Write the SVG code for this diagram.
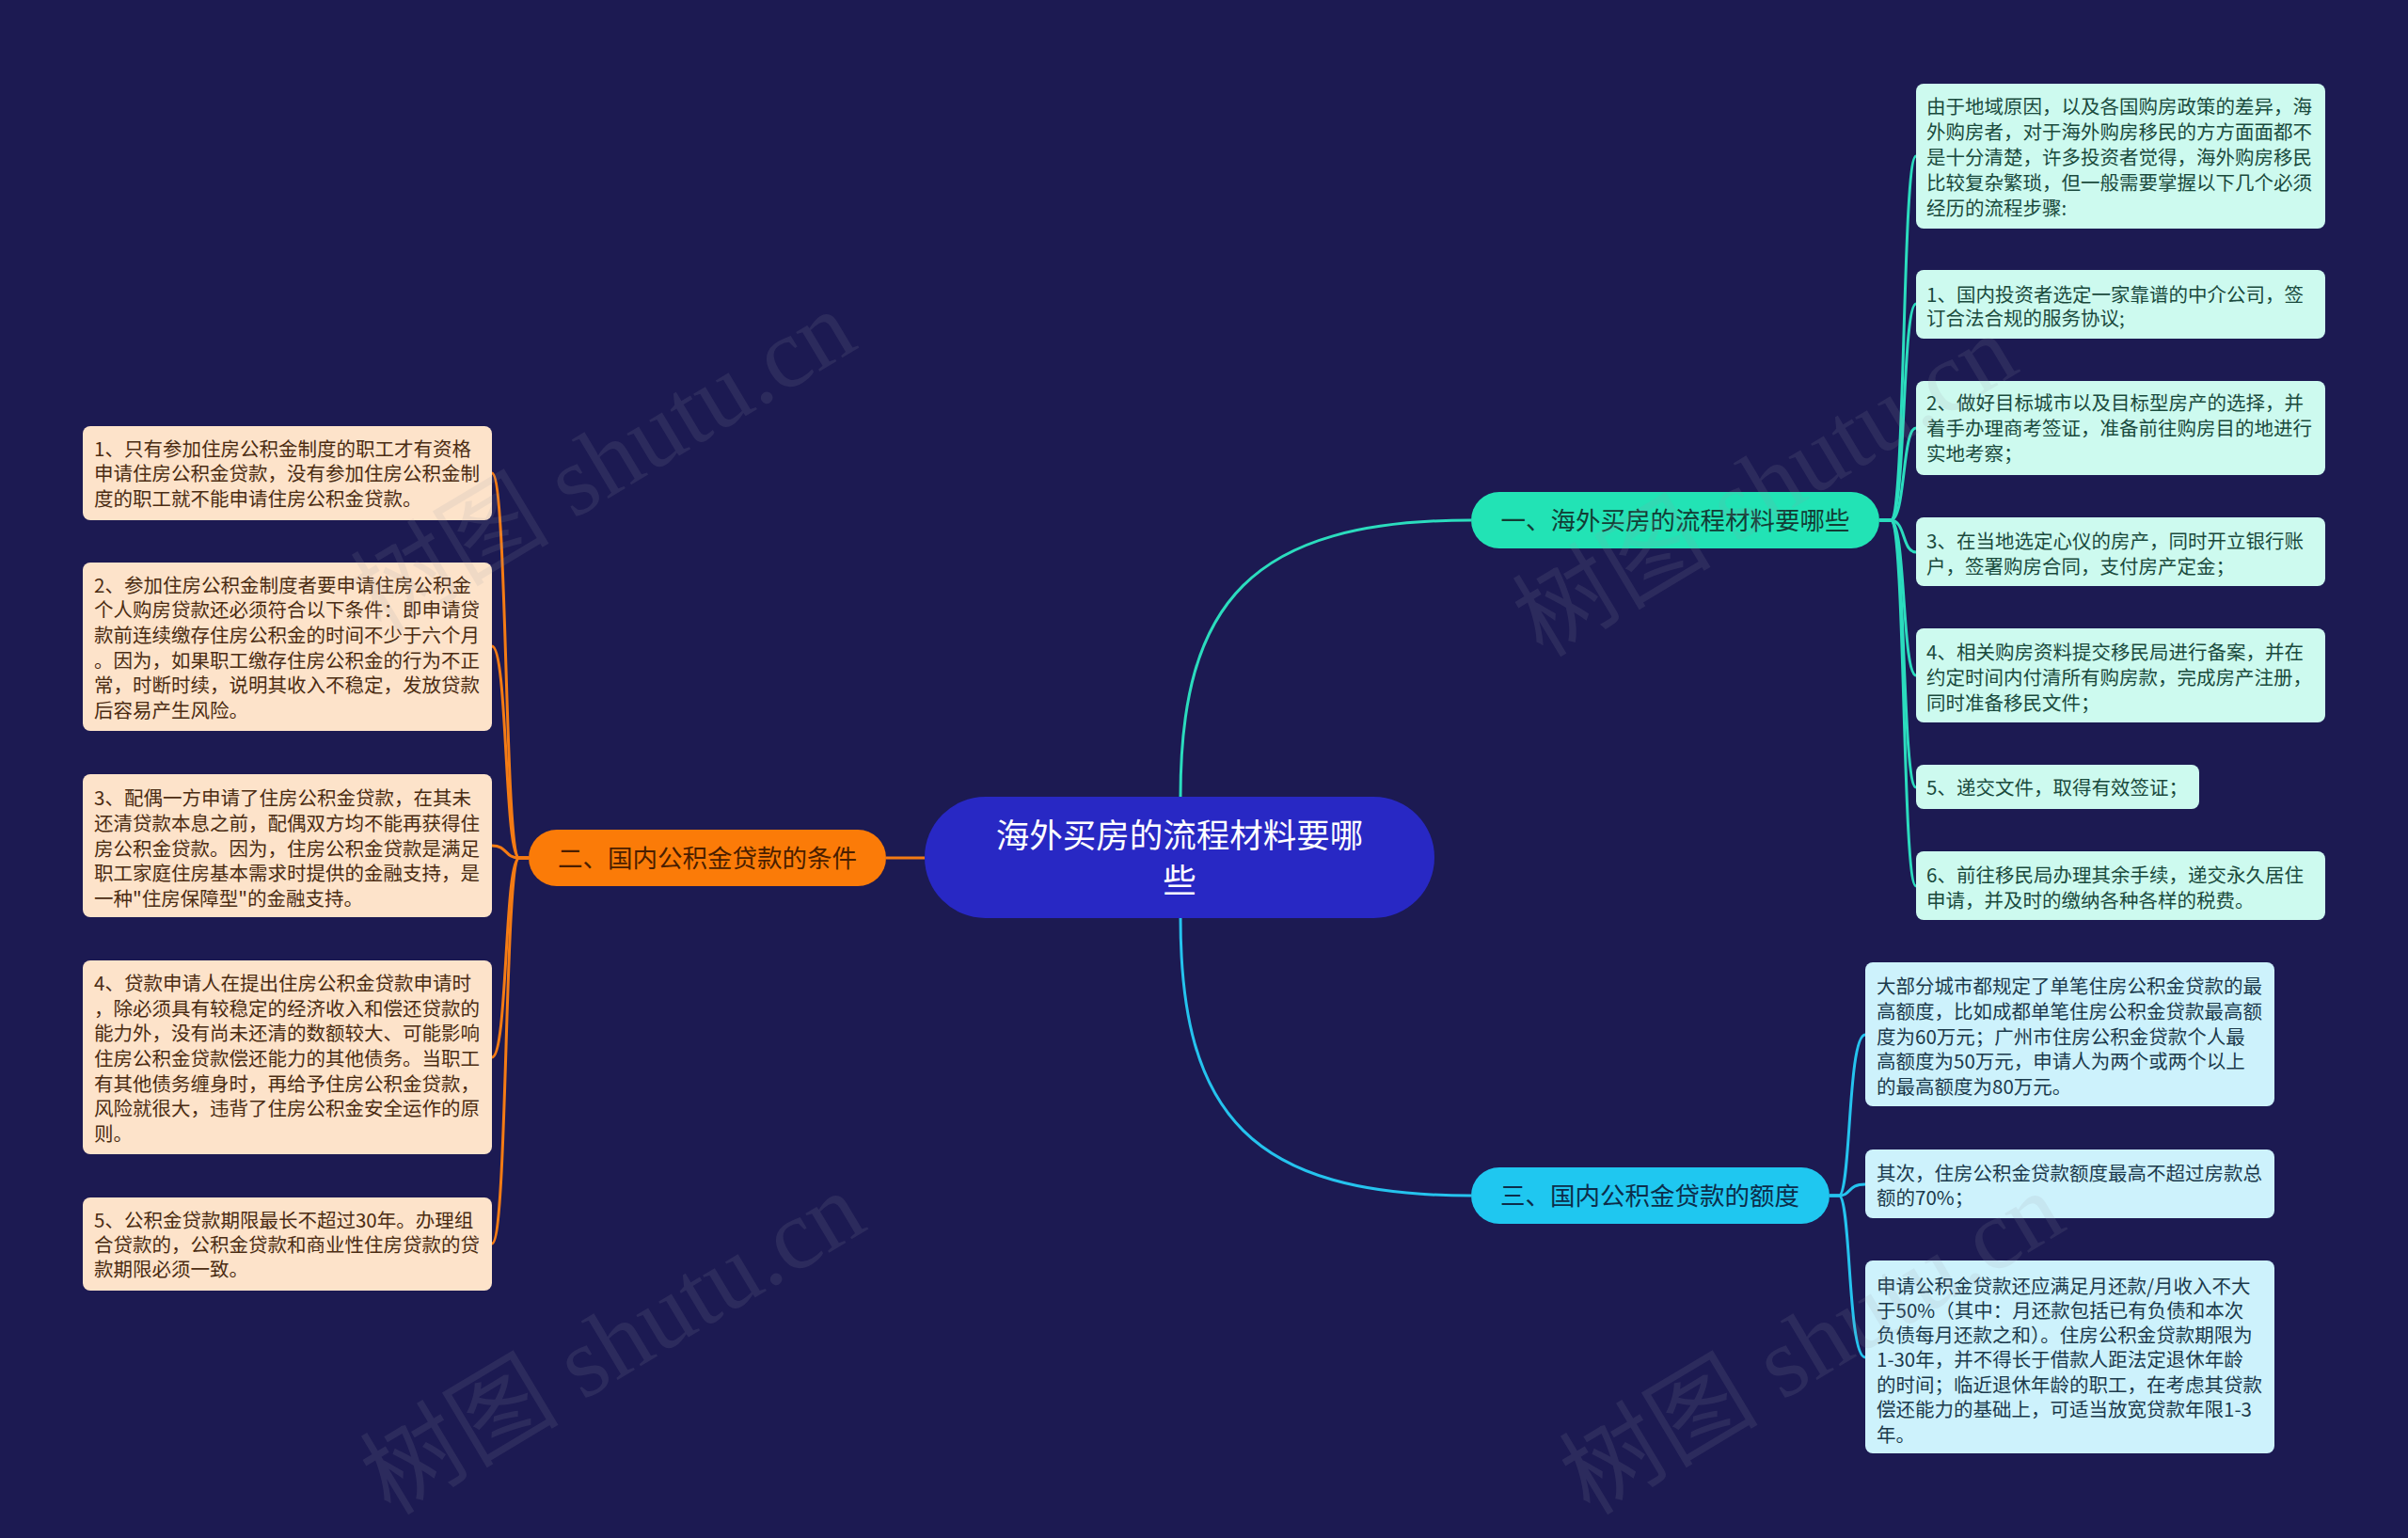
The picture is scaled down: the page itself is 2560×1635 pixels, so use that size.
<svg xmlns="http://www.w3.org/2000/svg" width="2560" height="1635" viewBox="0 0 2560 1635">
<style>
text{font-family:"Noto Sans CJK SC","Noto Sans",sans-serif;}
.t{font-size:20.5px;}
.g1{fill:#cdfaef;}
.g2{fill:#fde3ca;}
.g3{fill:#cdf2fc;}
.x1{fill:#1a4a3d;}
.x2{fill:#4b2c12;}
.x3{fill:#1b3a4c;}
.c1{fill:none;stroke:#2bdcbe;stroke-width:3;}
.c2{fill:none;stroke:#f47b14;stroke-width:3;}
.c3{fill:none;stroke:#25c3ee;stroke-width:3;}
.wm{font-family:"Liberation Serif","Noto Sans CJK SC",serif;font-size:106px;fill:#9a9aa8;opacity:0.13;}
</style>
<rect x="0" y="0" width="2560" height="1635" fill="#1c1a52"/>

<g id="connectors">
<path class="c1" d="M1255 847 C1255 640 1330 553 1564 553"/>
<path class="c3" d="M1255 976 C1255 1185 1330 1271 1564 1271"/>
<path class="c2" d="M983 912 H942"/>
<path class="c1" d="M1998 553 H2010 C2026 553 2022 166 2037 166"/>
<path class="c1" d="M1998 553 H2010 C2026 553 2022 323 2037 323"/>
<path class="c1" d="M1998 553 H2010 C2026 553 2022 455 2037 455"/>
<path class="c1" d="M1998 553 H2010 C2026 553 2022 587 2037 587"/>
<path class="c1" d="M1998 553 H2010 C2026 553 2022 718 2037 718"/>
<path class="c1" d="M1998 553 H2010 C2026 553 2022 837 2037 837"/>
<path class="c1" d="M1998 553 H2010 C2026 553 2022 942 2037 942"/>
<path class="c3" d="M1945 1271 H1955 C1968 1271 1964 1100 1983 1100"/>
<path class="c3" d="M1945 1271 H1955 C1968 1271 1964 1259 1983 1259"/>
<path class="c3" d="M1945 1271 H1955 C1968 1271 1964 1443 1983 1443"/>
<path class="c2" d="M562 912 H552 C536 912 540 503 523 503"/>
<path class="c2" d="M562 912 H552 C536 912 540 687 523 687"/>
<path class="c2" d="M562 912 H552 C536 912 540 899 523 899"/>
<path class="c2" d="M562 912 H552 C536 912 540 1124 523 1124"/>
<path class="c2" d="M562 912 H552 C536 912 540 1322 523 1322"/>
</g>

<g id="center">
<rect x="983" y="847" width="542" height="129" rx="64.5" fill="#2828c4"/>
<text x="1254" y="901" font-size="35.5" fill="#ffffff" text-anchor="middle">海外买房的流程材料要哪</text>
<text x="1254" y="949" font-size="35.5" fill="#ffffff" text-anchor="middle">些</text>
</g>

<g id="branch1">
<rect x="1564" y="523" width="434" height="60" rx="30" fill="#22e3b5"/>
<text x="1781" y="563" font-size="26.5" fill="#123d35" text-anchor="middle">一、海外买房的流程材料要哪些</text>
</g>
<g id="branch2">
<rect x="562" y="882" width="380" height="60" rx="30" fill="#fb7b08"/>
<text x="752" y="922" font-size="26.5" fill="#4a1e00" text-anchor="middle">二、国内公积金贷款的条件</text>
</g>
<g id="branch3">
<rect x="1564" y="1241" width="381" height="60" rx="30" fill="#1fc7f0"/>
<text x="1754" y="1281" font-size="26.5" fill="#0c2d4a" text-anchor="middle">三、国内公积金贷款的额度</text>
</g>

<g id="b1n0">
<rect class="g1" x="2037" y="89" width="435" height="154" rx="8"/>
<text class="t x1"><tspan x="2048" y="120.5">由于地域原因，以及各国购房政策的差异，海</tspan><tspan x="2048" y="147.5">外购房者，对于海外购房移民的方方面面都不</tspan><tspan x="2048" y="174.5">是十分清楚，许多投资者觉得，海外购房移民</tspan><tspan x="2048" y="202">比较复杂繁琐，但一般需要掌握以下几个必须</tspan><tspan x="2048" y="229">经历的流程步骤:</tspan></text>
</g>
<g id="b1n1">
<rect class="g1" x="2037" y="287" width="435" height="73" rx="8"/>
<text class="t x1"><tspan x="2048" y="320.5">1、国内投资者选定一家靠谱的中介公司，签</tspan><tspan x="2048" y="346">订合法合规的服务协议;</tspan></text>
</g>
<g id="b1n2">
<rect class="g1" x="2037" y="405" width="435" height="100" rx="8"/>
<text class="t x1"><tspan x="2048" y="435.5">2、做好目标城市以及目标型房产的选择，并</tspan><tspan x="2048" y="462.5">着手办理商考签证，准备前往购房目的地进行</tspan><tspan x="2048" y="489.5">实地考察；</tspan></text>
</g>
<g id="b1n3">
<rect class="g1" x="2037" y="550" width="435" height="73" rx="8"/>
<text class="t x1"><tspan x="2048" y="582.5">3、在当地选定心仪的房产，同时开立银行账</tspan><tspan x="2048" y="609.5">户，签署购房合同，支付房产定金；</tspan></text>
</g>
<g id="b1n4">
<rect class="g1" x="2037" y="668" width="435" height="100" rx="8"/>
<text class="t x1"><tspan x="2048" y="700.5">4、相关购房资料提交移民局进行备案，并在</tspan><tspan x="2048" y="727.5">约定时间内付清所有购房款，完成房产注册，</tspan><tspan x="2048" y="754.5">同时准备移民文件；</tspan></text>
</g>
<g id="b1n5">
<rect class="g1" x="2037" y="813" width="301" height="47" rx="8"/>
<text class="t x1"><tspan x="2048" y="844.5">5、递交文件，取得有效签证；</tspan></text>
</g>
<g id="b1n6">
<rect class="g1" x="2037" y="905" width="435" height="73" rx="8"/>
<text class="t x1"><tspan x="2048" y="937.5">6、前往移民局办理其余手续，递交永久居住</tspan><tspan x="2048" y="964.5">申请，并及时的缴纳各种各样的税费。</tspan></text>
</g>

<g id="b3n0">
<rect class="g3" x="1983" y="1023" width="435" height="153" rx="8"/>
<text class="t x3"><tspan x="1995" y="1055.5">大部分城市都规定了单笔住房公积金贷款的最</tspan><tspan x="1995" y="1082.5">高额度，比如成都单笔住房公积金贷款最高额</tspan><tspan x="1995" y="1109.5">度为60万元；广州市住房公积金贷款个人最</tspan><tspan x="1995" y="1135.5">高额度为50万元，申请人为两个或两个以上</tspan><tspan x="1995" y="1162.5">的最高额度为80万元。</tspan></text>
</g>
<g id="b3n1">
<rect class="g3" x="1983" y="1222" width="435" height="73" rx="8"/>
<text class="t x3"><tspan x="1995" y="1254.5">其次，住房公积金贷款额度最高不超过房款总</tspan><tspan x="1995" y="1280.5">额的70%；</tspan></text>
</g>
<g id="b3n2">
<rect class="g3" x="1983" y="1340" width="435" height="205" rx="8"/>
<text class="t x3"><tspan x="1995" y="1374.5">申请公积金贷款还应满足月还款/月收入不大</tspan><tspan x="1995" y="1400.5">于50%（其中：月还款包括已有负债和本次</tspan><tspan x="1995" y="1426.5">负债每月还款之和）。住房公积金贷款期限为</tspan><tspan x="1995" y="1452.5">1-30年，并不得长于借款人距法定退休年龄</tspan><tspan x="1995" y="1479.5">的时间；临近退休年龄的职工，在考虑其贷款</tspan><tspan x="1995" y="1505.5">偿还能力的基础上，可适当放宽贷款年限1-3</tspan><tspan x="1995" y="1532.5">年。</tspan></text>
</g>

<g id="b2n0">
<rect class="g2" x="88" y="453" width="435" height="100" rx="8"/>
<text class="t x2"><tspan x="100" y="484.5">1、只有参加住房公积金制度的职工才有资格</tspan><tspan x="100" y="510.5">申请住房公积金贷款，没有参加住房公积金制</tspan><tspan x="100" y="537.5">度的职工就不能申请住房公积金贷款。</tspan></text>
</g>
<g id="b2n1">
<rect class="g2" x="88" y="598" width="435" height="179" rx="8"/>
<text class="t x2"><tspan x="100" y="629.5">2、参加住房公积金制度者要申请住房公积金</tspan><tspan x="100" y="655.5">个人购房贷款还必须符合以下条件：即申请贷</tspan><tspan x="100" y="682.5">款前连续缴存住房公积金的时间不少于六个月</tspan><tspan x="100" y="709.5">。因为，如果职工缴存住房公积金的行为不正</tspan><tspan x="100" y="735.5">常，时断时续，说明其收入不稳定，发放贷款</tspan><tspan x="100" y="762.5">后容易产生风险。</tspan></text>
</g>
<g id="b2n2">
<rect class="g2" x="88" y="823" width="435" height="152" rx="8"/>
<text class="t x2"><tspan x="100" y="855.5">3、配偶一方申请了住房公积金贷款，在其未</tspan><tspan x="100" y="882.5">还清贷款本息之前，配偶双方均不能再获得住</tspan><tspan x="100" y="909.5">房公积金贷款。因为，住房公积金贷款是满足</tspan><tspan x="100" y="935.5">职工家庭住房基本需求时提供的金融支持，是</tspan><tspan x="100" y="962.5">一种"住房保障型"的金融支持。</tspan></text>
</g>
<g id="b2n3">
<rect class="g2" x="88" y="1021" width="435" height="206" rx="8"/>
<text class="t x2"><tspan x="100" y="1052.5">4、贷款申请人在提出住房公积金贷款申请时</tspan><tspan x="100" y="1079.5">，除必须具有较稳定的经济收入和偿还贷款的</tspan><tspan x="100" y="1105.5">能力外，没有尚未还清的数额较大、可能影响</tspan><tspan x="100" y="1132.5">住房公积金贷款偿还能力的其他债务。当职工</tspan><tspan x="100" y="1159.5">有其他债务缠身时，再给予住房公积金贷款，</tspan><tspan x="100" y="1185.5">风险就很大，违背了住房公积金安全运作的原</tspan><tspan x="100" y="1212.5">则。</tspan></text>
</g>
<g id="b2n4">
<rect class="g2" x="88" y="1273" width="435" height="99" rx="8"/>
<text class="t x2"><tspan x="100" y="1304.5">5、公积金贷款期限最长不超过30年。办理组</tspan><tspan x="100" y="1330.5">合贷款的，公积金贷款和商业性住房贷款的贷</tspan><tspan x="100" y="1356.5">款期限必须一致。</tspan></text>
</g>

<g id="watermarks">
<text class="wm" transform="translate(405 675) rotate(-31)">树图 shutu.cn</text>
<text class="wm" transform="translate(1640 700) rotate(-31)">树图 shutu.cn</text>
<text class="wm" transform="translate(415 1612) rotate(-31)">树图 shutu.cn</text>
<text class="wm" transform="translate(1690 1612) rotate(-31)">树图 shutu.cn</text>
</g>
</svg>
